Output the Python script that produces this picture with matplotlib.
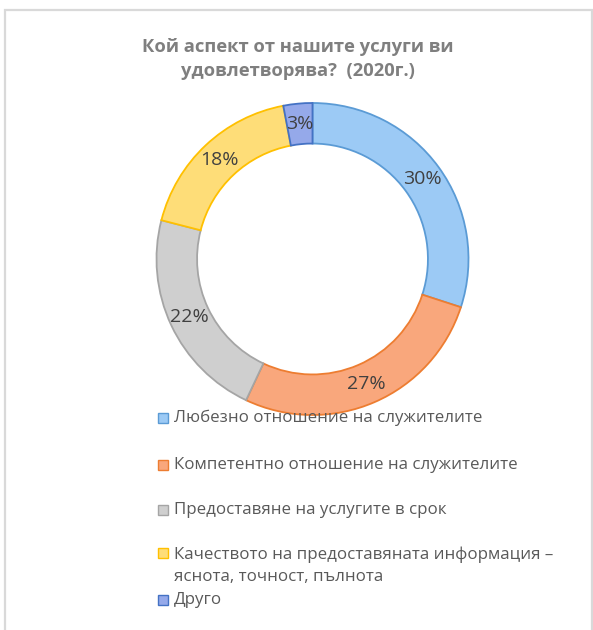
import matplotlib
matplotlib.use("Agg")
import matplotlib.pyplot as plt
from matplotlib.patches import Rectangle

# Survey results
title = "Кой аспект от нашите услуги ви\nудовлетворява?  (2020г.)"
categories = [
    "Любезно отношение на служителите",
    "Компетентно отношение на служителите",
    "Предоставяне на услугите в срок",
    "Качеството на предоставяната информация –\nяснота, точност, пълнота",
    "Друго",
]
shares = [30, 27, 22, 18, 3]

face_colors = ["#9ccaf5", "#f9a77c", "#cfcfcf", "#fedd78", "#95a9ea"]
edge_colors = ["#5b9bd5", "#ed7d31", "#a5a5a5", "#ffc000", "#4472c4"]

W, H = 593, 630
fig = plt.figure(figsize=(W / 100, H / 100), dpi=100)
fig.patch.set_facecolor("white")

def fx(px):
    return px / W

def fy(py):
    return 1 - py / H

# Chart frame
fig.patches.append(Rectangle((fx(5), fy(640)), fx(587), (640 - 10) / H,
                             transform=fig.transFigure, fill=False,
                             edgecolor="#d9d9d9", linewidth=1.6))

# Title
fig.text(fx(298), fy(59), title, ha="center", va="center",
         fontsize=13.2, fontweight="bold", color="#7f7f7f",
         family="Open Sans", linespacing=1.45)

# Doughnut
cx, cy, r = 312.5, 259, 156
ax = fig.add_axes([fx(cx - r), fy(cy + r), 2 * r / W, 2 * r / H])
wedges, texts, autotexts = ax.pie(
    shares, startangle=90, counterclock=False, radius=1.0,
    colors=face_colors, autopct="%d%%", pctdistance=0.87,
    wedgeprops=dict(width=0.26, linewidth=1.3),
    textprops=dict(fontsize=14, color="#404040", family="Open Sans"),
)
for w, ec in zip(wedges, edge_colors):
    w.set_edgecolor(ec)
ax.set_xlim(-1.0, 1.0)
ax.set_ylim(-1.0, 1.0)
ax.set_aspect("equal")
ax.axis("off")

# Legend
marker_y = [418, 465, 510, 553, 600]
text_y = [418, 465, 510, 566, 600]
for label, fc, ec, my, ty in zip(categories, face_colors, edge_colors, marker_y, text_y):
    fig.patches.append(Rectangle((fx(158), fy(my + 5)), fx(10), 10 / H,
                                 transform=fig.transFigure,
                                 facecolor=fc, edgecolor=ec, linewidth=1.0))
    fig.text(fx(174), fy(ty), label, ha="left", va="center",
             fontsize=12.2, color="#595959", family="Open Sans",
             linespacing=1.5)

fig.savefig("out.png", dpi=100)
